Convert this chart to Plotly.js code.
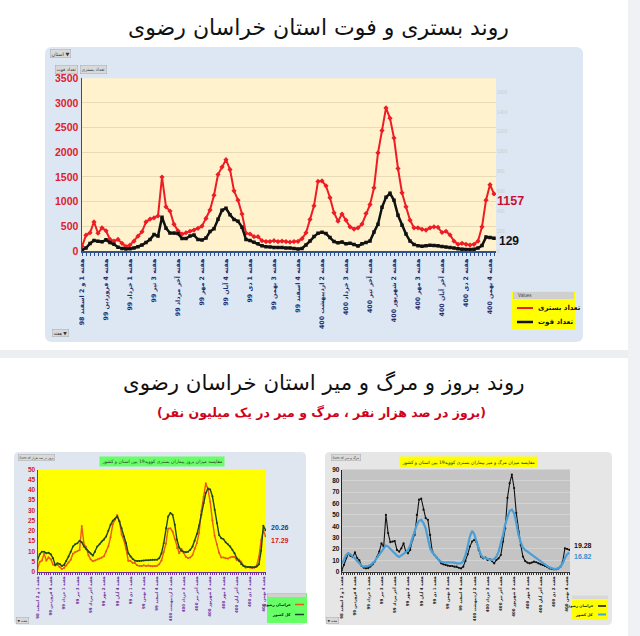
<!DOCTYPE html>
<html><head><meta charset="utf-8">
<script src="https://cdn.plot.ly/plotly-3.0.1.min.js"></script>
<style>html,body{margin:0;padding:0;background:#fff;}#chart{width:640px;height:636px;}</style>
</head><body><div id="chart"></div>
<script>
const tickLabels = [
"هفته 1 و 2 اسفند 98","هفته 4 فروردین 99","هفته 1 خرداد 99","هفته 3 تیر 99",
"هفته آخر مرداد 99","هفته 2 مهر 99","هفته 4 آبان 99","هفته 1 دی 99",
"هفته 3 بهمن 99","هفته 4 اسفند 99","هفته 2 اردیبهشت 400","هفته 3 خرداد 400",
"هفته آخر تیر 400","هفته 2 شهریور 400","هفته 3 مهر 400","هفته آخر آبان 400",
"هفته 2 دی 400","هفته 4 بهمن 400"];

// weekly hospitalized (left axis) and deaths (right axis), Khorasan Razavi
const hospitalized = [90,320,370,590,360,470,410,235,200,235,
155,90,120,200,300,390,590,645,670,710,
1500,895,810,540,410,340,370,400,425,460,
505,660,830,1130,1550,1700,1850,1650,1220,1030,
750,360,345,290,290,210,190,190,210,190,
200,190,180,190,195,250,370,640,915,1410,
1420,1320,1080,775,605,750,625,490,445,470,
545,760,940,1280,1990,2440,2900,2690,2290,1670,
1180,895,625,470,470,440,425,470,490,480,
375,400,325,200,135,155,135,120,135,200,
490,1030,1345,1157];
const deaths = [8,30,75,105,98,92,112,85,68,38,
24,20,22,30,44,60,85,115,165,150,
340,230,180,180,175,125,125,150,160,115,
110,130,195,225,320,410,430,365,318,300,
240,115,105,88,72,52,44,40,36,34,
34,31,30,25,19,25,60,100,145,178,
188,175,135,95,82,90,72,78,66,50,
72,85,100,190,270,440,540,580,510,360,
260,170,100,66,54,48,52,58,56,52,
46,40,35,29,22,18,14,14,18,30,
55,140,135,129];
// incidence per 100k
const incidenceKhorasan = [1.3,4.8,5.5,8.8,5.4,7.0,6.1,3.5,3.0,3.5,
2.3,1.3,1.8,3.0,4.5,5.8,8.8,9.6,10.0,10.6,
22.4,13.4,12.1,8.1,6.1,5.1,5.5,6.0,6.4,6.9,
7.5,9.9,12.4,16.9,23.2,25.4,27.7,24.7,18.2,15.4,
11.2,5.4,5.2,4.3,4.3,3.1,2.8,2.8,3.1,2.8,
3.0,2.8,2.7,2.8,2.9,3.7,5.5,9.6,13.7,21.1,
21.2,19.7,16.1,11.6,9.0,11.2,9.3,7.3,6.7,7.0,
8.1,11.4,14.1,19.1,29.7,36.5,43.3,40.2,34.2,25.0,
17.6,13.4,9.3,7.0,7.0,6.6,6.4,7.0,7.3,7.2,
5.6,6.0,4.9,3.0,2.0,2.3,2.0,1.8,2.0,3.0,
7.3,15.4,20.1,17.29];
const incidenceIran = [5.7,8.5,9.8,9.8,9.0,9.3,8.5,6.6,3.3,4.1,
3.8,2.8,3.3,5.2,7.4,9.8,12.3,13.4,13.9,15.1,
14.4,12.3,11.0,9.8,8.9,7.9,9.8,12.3,13.4,14.8,
15.6,17.2,20.0,23.0,24.9,25.9,27.0,24.6,21.3,17.2,
13.9,9.0,7.4,6.2,5.4,5.2,5.2,5.4,5.5,5.6,
5.6,5.7,5.8,5.8,5.9,6.6,9.0,13.9,21.3,27.0,
28.7,27.9,23.0,15.6,11.8,10.3,9.8,9.5,9.8,10.7,
12.3,15.1,18.4,22.6,27.9,33.6,38.5,40.7,40.2,36.9,
30.3,23.8,18.0,16.4,15.9,14.4,13.4,12.3,10.7,9.0,
6.6,5.2,3.6,2.8,2.5,2.3,2.3,2.2,2.2,2.5,
3.6,10.2,22.5,20.26];
// mortality per million
const mortalityKhorasan = [1,6,12,16,14,13,17,12,10,5,
3.5,3,3.2,4.5,6.5,9,13,17.7,25,22,
50,34,26,26.5,27,19.2,17.7,20.6,25,17.7,
16.2,19.2,28,32.4,50,63.4,64.3,54.6,47.2,45.7,
32.4,17.7,14.7,12.4,10.3,7.4,6.5,5.9,5.3,5,
5,4.4,4.4,3.5,2.9,4.4,9.4,15.3,22.1,26.5,
28,26,19.2,13.3,11.8,12.4,10.3,11.2,9.4,7.4,
10.3,11.8,14.7,26.5,38.3,65,78,85.5,73.7,51.6,
35.4,23.6,13.3,9.4,8,7.4,8,8.8,8.3,7.4,
6.5,5.9,5,4.1,2.9,2.4,2.1,2.1,2.9,4.4,
8.8,20.6,20,19.28];
const mortalityIran = [7.4,10.3,14.7,16.2,15.3,13.9,11.8,9.4,7.4,5.3,
4.4,4.4,5,5.9,7.4,9.4,12.4,14.7,17.7,20.6,
23,22.1,20,18.3,16.2,14.2,13,14.2,15.3,17.1,
19.2,23,29.5,35.4,41.3,44.8,45.7,42.8,38.3,29.5,
20.6,17.1,14.7,12.4,10.3,8.8,8.3,8,8.3,8.3,
8,8,7.4,7.4,7.4,9.4,14.7,22.1,31,36,
33,26.5,19.8,14.7,12.4,11.8,10.9,10.9,10.3,11.2,
13.3,17.7,24.2,32.4,41.9,48.7,53.7,54.6,51.6,42.8,
32.4,26,21.2,19.2,17.7,16.2,14.7,13.3,11.8,10.3,
8.8,7.4,5.9,5,3.8,2.9,2.4,2.4,2.9,4.4,
7.4,11.8,15.3,16.82];

const weeks = hospitalized.map((_, i) => i);
const labelEvery = 6;
const tickText = weeks.map(i => i % labelEvery === 0 ? (tickLabels[i / labelEvery] || '') : '');

const AR = 'DejaVu Sans, sans-serif';
const LAT = 'Liberation Sans, Arial, sans-serif';
const X = v => v / 640, Y = v => 1 - v / 636;
function rr(x0, y0, x1, y1, r) {
  return `M${X(x0+r)},${Y(y0)} L${X(x1-r)},${Y(y0)} Q${X(x1)},${Y(y0)} ${X(x1)},${Y(y0+r)} L${X(x1)},${Y(y1-r)} Q${X(x1)},${Y(y1)} ${X(x1-r)},${Y(y1)} L${X(x0+r)},${Y(y1)} Q${X(x0)},${Y(y1)} ${X(x0)},${Y(y1-r)} L${X(x0)},${Y(y0+r)} Q${X(x0)},${Y(y0)} ${X(x0+r)},${Y(y0)} Z`;
}
const pathShape = (d, fill) => ({type:'path', xref:'paper', yref:'paper', path:d, fillcolor:fill, line:{width:0}, layer:'below'});
const rectShape = (x0,y0,x1,y1,fill,lc,lw) => ({type:'rect', xref:'paper', yref:'paper', x0:X(x0), x1:X(x1), y0:Y(y1), y1:Y(y0), fillcolor:fill, line:{width:lw||0, color:lc||fill}, layer:'below'});
const lineShape = (x0,y,x1,color,w) => ({type:'line', xref:'paper', yref:'paper', x0:X(x0), x1:X(x1), y0:Y(y), y1:Y(y), line:{color:color, width:w}, layer:'above'});

// plot-area pixel boxes
const TOP = {x0:82, x1:496, y0:78.3, y1:251};
const BL = {x0:37.5, x1:266, y0:469.5, y1:571.7};
const BR = {x0:341.7, x1:570, y0:469.5, y1:571.7};

const shapes = [
  rectShape(628, 0, 640, 636, '#f0f1f4'),
  rectShape(0, 350, 628, 358, '#eceef2'),
  pathShape(rr(45, 47, 583, 342, 7), '#dde7f3'),
  pathShape(rr(14, 452, 306, 625, 5), '#dfe6ef'),
  pathShape(rr(325, 452, 612, 625, 5), '#e6e6e6'),
  rectShape(TOP.x0, TOP.y0, TOP.x1, TOP.y1, '#fff2cc'),
  rectShape(BL.x0, BL.y0, BL.x1, BL.y1, '#ffff00'),
  rectShape(BR.x0, BR.y0, BR.x1, BR.y1, '#c4c4c4'),
  // top legend
  rectShape(512, 291, 575, 329, '#ffff00'),
  rectShape(513, 292, 574, 299, '#cfcfcf'),
  // BL legend
  rectShape(267, 593, 307, 623, '#66ff66'),
  rectShape(268, 593.5, 306, 597, '#d0d0d0'),
  // BR legend
  rectShape(572, 600, 608, 620, '#ffff00'),
  rectShape(572, 595.5, 608, 599, '#d8d8d8'),
];
// legend line samples
shapes.push(lineShape(517, 308, 533, '#ee1c25', 2));
shapes.push(lineShape(517, 322, 533, '#111111', 2.5));
shapes.push(lineShape(295, 604.5, 304, '#ea5b14', 1.5));
shapes.push(lineShape(295, 614.5, 304, '#1e4620', 1.5));
shapes.push(lineShape(598, 606, 606, '#111111', 1.5));
shapes.push(lineShape(598, 614.5, 606, '#4a9fd6', 2));

const ann = [];
const txt = (x, y, text, size, color, opts) => Object.assign({
  xref:'paper', yref:'paper', x:X(x), y:Y(y), text:text, showarrow:false,
  font:{family:AR, size:size, color:color}, xanchor:'center', yanchor:'middle'}, opts || {});
const bold = (size, color) => ({family:AR, size:size, color:color, weight:'bold'});

// titles
ann.push(txt(318, 28, 'روند بستری و فوت استان خراسان رضوی', 22, '#111'));
ann.push(txt(324, 382, 'روند بروز و مرگ و میر استان خراسان رضوی', 21.3, '#111'));
ann.push(txt(321, 412, '\u200F(بروز در صد هزار نفر ، مرگ و میر در یک میلیون نفر)\u200F', 12, '#d0021b', {font:bold(12.5, '#d0021b')}));

// pivot buttons
const btn = (x, y, text, size) => txt(x, y, text, size, '#333', {bgcolor:'#d9d9d9', bordercolor:'#aaaaaa', borderwidth:0.5, borderpad:1});
ann.push(btn(60, 53, 'استان ▼', 5));
ann.push(btn(66, 70, 'تعداد فوت', 4.5));
ann.push(btn(93, 70, 'تعداد بستری', 4.5));
ann.push(btn(60, 333, 'هفته ▼', 4.5));
ann.push(btn(36, 457, 'Sum of بروز در صد هزار', 3.2));
ann.push(btn(346, 457, 'Sum of مرگ و میر', 3.2));
ann.push(btn(22, 620, '▼ هفته', 3.2));
ann.push(btn(332, 620, '▼ هفته', 3.2));

// chart titles (bottom)
ann.push(txt(162, 461.5, 'مقایسه میزان بروز بیماران بستری کووید19 بین استان و کشور', 4.6, '#333', {bgcolor:'#66ff66', borderpad:1.5}));
ann.push(txt(468, 461.5, 'مقایسه میزان مرگ و میر بیماران بستری کووید19 بین استان و کشور', 4.6, '#222', {bgcolor:'#ffff00', borderpad:1.5}));

// legend texts
ann.push(txt(516, 295.5, 'Values', 4.5, '#444', {xanchor:'left', font:{family:LAT, size:4.5, color:'#444'}}));
ann.push(txt(536, 308, 'تعداد بستری', 7, '#111', {xanchor:'left', font:bold(7, '#111')}));
ann.push(txt(536, 322, 'تعداد فوت', 7, '#111', {xanchor:'left', font:bold(7, '#111')}));
ann.push(txt(293, 604.5, 'خراسان رضوی', 3.8, '#111', {xanchor:'right', font:bold(3.8, '#111')}));
ann.push(txt(293, 614.5, 'کل کشور', 3.8, '#111', {xanchor:'right', font:bold(3.8, '#111')}));
ann.push(txt(596, 606, 'خراسان رضوی', 3.6, '#111', {xanchor:'right', font:bold(3.6, '#111')}));
ann.push(txt(596, 614.5, 'کل کشور', 3.6, '#111', {xanchor:'right', font:bold(3.6, '#111')}));

// end-value labels
const last = weeks.length - 1;
const endLbl = (xr, yr, val, color, size, xs, ys) => ({xref:xr, yref:yr, x:last, y:val, text:String(val), showarrow:false,
  xanchor:'left', yanchor:'middle', xshift:xs, yshift:ys, font:{family:LAT, size:size, color:color, weight:'bold'}});
ann.push(endLbl('x', 'y', hospitalized[last], '#c8102e', 12.5, 1, -7));
ann.push(endLbl('x', 'y2', deaths[last], '#111', 12, 3, -2.5));
ann.push(endLbl('x2', 'y3', incidenceIran[last], '#1f3d7a', 7, 3, 3));
ann.push(endLbl('x2', 'y3', incidenceKhorasan[last], '#d42020', 7, 3, -4));
ann.push(endLbl('x3', 'y4', mortalityKhorasan[last], '#111', 7, 3, 4));
ann.push(endLbl('x3', 'y4', mortalityIran[last], '#3b8fd0', 7, 3, -4));

const traces = [
  {x:weeks, y:hospitalized, xaxis:'x', yaxis:'y', name:'تعداد بستری', mode:'lines+markers',
   line:{color:'#ee1c25', width:2}, marker:{symbol:'diamond', size:4, color:'#ee1c25'}},
  {x:weeks, y:deaths, xaxis:'x', yaxis:'y2', name:'تعداد فوت', mode:'lines+markers',
   line:{color:'#111111', width:2.5}, marker:{symbol:'square', size:3.5, color:'#111111'}},
  {x:weeks, y:incidenceKhorasan, xaxis:'x2', yaxis:'y3', name:'خراسان رضوی', mode:'lines+markers',
   line:{color:'#ea5b14', width:1.4}, marker:{size:2, color:'#ea5b14'}},
  {x:weeks, y:incidenceIran, xaxis:'x2', yaxis:'y3', name:'کل کشور', mode:'lines+markers',
   line:{color:'#1e4620', width:1.4}, marker:{size:2, color:'#1e4620'}},
  {x:weeks, y:mortalityKhorasan, xaxis:'x3', yaxis:'y4', name:'خراسان رضوی', mode:'lines+markers',
   line:{color:'#111111', width:1.1}, marker:{size:2.2, color:'#111111'}},
  {x:weeks, y:mortalityIran, xaxis:'x3', yaxis:'y4', name:'کل کشور', mode:'lines',
   line:{color:'#4a9fd6', width:2.2}},
];

const dom = b => ({x:[X(b.x0), X(b.x1)], y:[Y(b.y1), Y(b.y0)]});
const dT = dom(TOP), dL = dom(BL), dR = dom(BR);
const xCommon = {tickmode:'array', tickvals:weeks, ticktext:tickText, tickangle:-90, showgrid:false, zeroline:false,
  showline:true, ticks:'outside', fixedrange:true};

const layout = {
  width:640, height:636, margin:{l:0, r:0, t:0, b:0}, paper_bgcolor:'#ffffff', plot_bgcolor:'rgba(0,0,0,0)',
  showlegend:false, shapes:shapes, annotations:ann,
  xaxis: Object.assign({}, xCommon, {domain:dT.x, anchor:'y', range:[0, 103.5], linecolor:'#2f528f', linewidth:2,
    ticklen:3, tickcolor:'#2f528f', tickfont:bold(6.3, '#1f2f6f')}),
  yaxis: {domain:dT.y, anchor:'x', range:[0, 3500], dtick:500, showline:true, linecolor:'#ff0000', linewidth:1.5,
    showgrid:true, gridcolor:'rgba(140,130,110,0.22)', zeroline:false, ticks:'',
    tickfont:{family:LAT, size:10.5, color:'#e0202a', weight:'bold'}},
  yaxis2: {overlaying:'y', side:'right', anchor:'x', range:[0, 1738], dtick:200, showgrid:false, zeroline:false,
    showline:false, tickfont:{family:LAT, size:4.6, color:'#cccccc'}},
  xaxis2: Object.assign({}, xCommon, {domain:dL.x, anchor:'y3', range:[0, 103.2], linecolor:'#7030a0', linewidth:1,
    ticklen:2, tickcolor:'#7030a0', tickfont:bold(4.0, '#7030a0')}),
  yaxis3: {domain:dL.y, anchor:'x2', range:[0, 50], dtick:5, showline:true, linecolor:'#d02020', linewidth:1,
    showgrid:false, zeroline:false, tickfont:{family:LAT, size:6.5, color:'#d42020', weight:'bold'}},
  xaxis3: Object.assign({}, xCommon, {domain:dR.x, anchor:'y4', range:[0, 103.3], linecolor:'#333', linewidth:1,
    ticklen:2, tickcolor:'#333', tickfont:bold(4.0, '#222')}),
  yaxis4: {domain:dR.y, anchor:'x3', range:[0, 90], dtick:10, showline:true, linecolor:'#222', linewidth:1,
    showgrid:true, gridcolor:'rgba(255,255,255,0.25)', zeroline:false, tickfont:{family:LAT, size:6.5, color:'#111', weight:'bold'}},
};

Plotly.newPlot('chart', traces, layout, {staticPlot:true, displayModeBar:false});
</script></body></html>
